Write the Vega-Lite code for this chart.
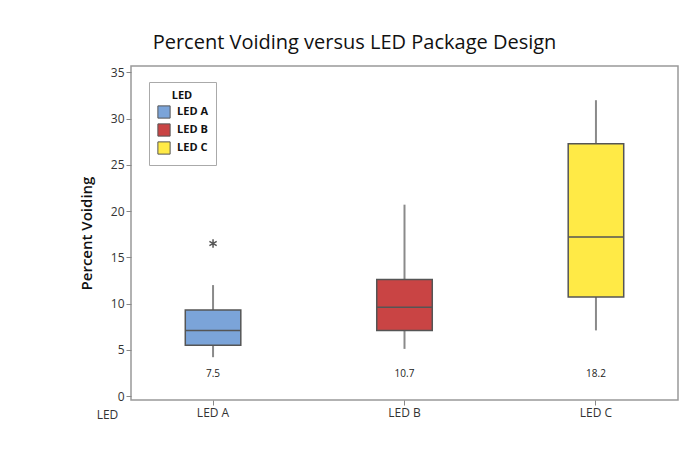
{
  "$schema": "https://vega.github.io/schema/vega-lite/v6.json",
  "autosize": {"type": "none"},
  "width": 547,
  "height": 334,
  "padding": {"left": 131, "top": 66, "right": 14, "bottom": 68},
  "background": "white",
  "title": {
    "text": "Percent Voiding versus LED Package Design",
    "font": "Open Sans",
    "fontSize": 20,
    "fontWeight": "normal",
    "color": "#111111",
    "anchor": "middle",
    "dx": -50,
    "offset": 13
  },
  "datasets": {
    "boxes": [
      {"LED": "LED A", "lower": 4.2, "q1": 5.5, "median": 7.1, "q3": 9.3, "upper": 12.0, "mean": 7.5},
      {"LED": "LED B", "lower": 5.1, "q1": 7.1, "median": 9.6, "q3": 12.6, "upper": 20.7, "mean": 10.7},
      {"LED": "LED C", "lower": 7.1, "q1": 10.7, "median": 17.2, "q3": 27.3, "upper": 32.0, "mean": 18.2}
    ],
    "outliers": [
      {"LED": "LED A", "value": 16.5}
    ]
  },
  "data": {"name": "boxes"},
  "encoding": {
    "x": {
      "field": "LED",
      "type": "nominal",
      "scale": {"domain": ["LED A", "LED B", "LED C"], "paddingInner": 0.71, "paddingOuter": 0.2835},
      "axis": {
        "title": "LED",
        "titleFont": "Open Sans",
        "titleFontSize": 12,
        "titleFontWeight": "normal",
        "titleColor": "#333333",
        "titleX": -24,
        "titleY": 14,
        "titleAlign": "center",
        "titleBaseline": "middle",
        "labelAngle": 0,
        "labelFont": "Open Sans",
        "labelFontSize": 12,
        "labelColor": "#333333",
        "labelPadding": 2,
        "domain": false,
        "ticks": true,
        "tickColor": "#888888",
        "tickSize": 5,
        "grid": false
      }
    }
  },
  "layer": [
    {
      "mark": {"type": "rule", "color": "#8a8a8a", "strokeWidth": 2},
      "encoding": {
        "y": {
          "field": "lower",
          "type": "quantitative",
          "scale": {"domain": [-0.43, 35.7], "nice": false, "zero": false},
          "axis": {
            "title": "Percent Voiding",
            "titleFont": "Open Sans",
            "titleFontSize": 15,
            "titleFontWeight": 600,
            "titleColor": "#111111",
            "titlePadding": 16,
            "values": [0, 5, 10, 15, 20, 25, 30, 35],
            "labelFont": "Open Sans",
            "labelFontSize": 12,
            "labelColor": "#333333",
            "labelPadding": 2,
            "domain": false,
            "tickColor": "#888888",
            "tickSize": 5,
            "grid": false
          }
        },
        "y2": {"field": "upper"}
      }
    },
    {
      "mark": {"type": "bar", "stroke": "#555555", "strokeWidth": 1.5},
      "encoding": {
        "y": {"field": "q1", "type": "quantitative"},
        "y2": {"field": "q3"},
        "color": {
          "field": "LED",
          "type": "nominal",
          "scale": {"domain": ["LED A", "LED B", "LED C"], "range": ["#7BA4D9", "#C94444", "#FFEA46"]},
          "legend": {
            "title": "LED",
            "orient": "none",
            "legendX": 18,
            "legendY": 16,
            "direction": "vertical",
            "fillColor": "white",
            "strokeColor": "#aaaaaa",
            "padding": 8,
            "titleFont": "Open Sans",
            "titleFontSize": 11,
            "titleFontWeight": "bold",
            "titleColor": "#111111",
            "titleAnchor": "middle",
            "titlePadding": 4,
            "labelFont": "Open Sans",
            "labelFontSize": 11,
            "labelFontWeight": "bold",
            "labelColor": "#111111",
            "symbolType": "square",
            "symbolSize": 150,
            "symbolStrokeColor": "#555555",
            "symbolStrokeWidth": 1,
            "symbolOpacity": 1,
            "rowPadding": 0,
            "labelOffset": 6
          }
        }
      }
    },
    {
      "mark": {"type": "tick", "color": "#555555", "thickness": 1.5, "size": 55, "opacity": 1},
      "encoding": {
        "y": {"field": "median", "type": "quantitative"}
      }
    },
    {
      "mark": {"type": "text", "font": "Open Sans", "fontSize": 10, "color": "#222222", "baseline": "middle"},
      "encoding": {
        "y": {"datum": 2.4},
        "text": {"field": "mean", "type": "quantitative", "format": ".1f"}
      }
    },
    {
      "data": {"name": "outliers"},
      "mark": {
        "type": "point",
        "shape": "M0,-1L0,1M-0.87,-0.5L0.87,0.5M-0.87,0.5L0.87,-0.5",
        "filled": false,
        "stroke": "#555555",
        "strokeWidth": 1.5,
        "size": 70,
        "opacity": 1
      },
      "encoding": {
        "y": {"field": "value", "type": "quantitative"}
      }
    }
  ],
  "config": {
    "view": {"stroke": "#999999", "strokeWidth": 1.5}
  }
}
